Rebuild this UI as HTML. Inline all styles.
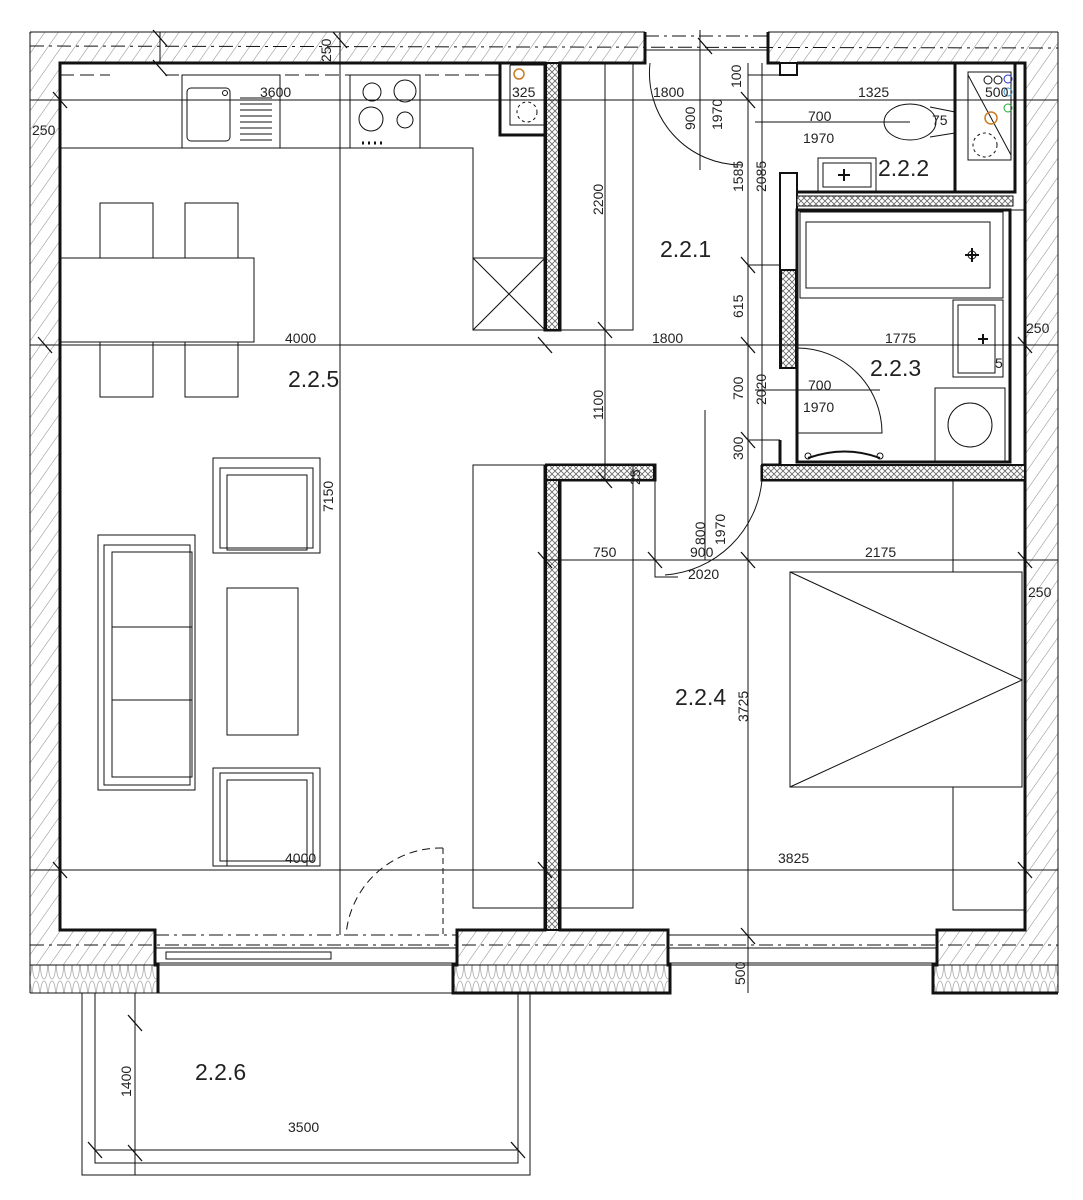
<!DOCTYPE html>
<html><head><meta charset="utf-8"><style>
html,body{margin:0;padding:0;background:#fff;}
svg{display:block;}
text{font-family:"Liberation Sans",sans-serif;fill:#222;}
.d{font-size:14px;}
.r{font-size:23px;fill:#111;}
</style></head><body>
<svg width="1083" height="1200" viewBox="0 0 1083 1200" xmlns="http://www.w3.org/2000/svg">
<defs>
<pattern id="h" width="11" height="11" patternUnits="userSpaceOnUse" patternTransform="rotate(35)">
<rect width="11" height="11" fill="#fff"/><line x1="0" y1="0" x2="0" y2="11" stroke="#888" stroke-width="1"/>
</pattern>
<pattern id="x" width="6" height="6" patternUnits="userSpaceOnUse">
<rect width="6" height="6" fill="#fff"/><path d="M0 0L6 6M6 0L0 6" stroke="#666" stroke-width="0.8"/>
</pattern>
<pattern id="ins" width="8" height="28" patternUnits="userSpaceOnUse">
<rect width="8" height="28" fill="#fff"/><ellipse cx="4" cy="14" rx="3.5" ry="13" fill="none" stroke="#aaa" stroke-width="0.8"/>
</pattern>
</defs>
<g fill="none" stroke="#111">
<rect x="30" y="32" width="615" height="31" fill="url(#h)" stroke="none"/>
<rect x="768" y="32" width="290" height="31" fill="url(#h)" stroke="none"/>
<rect x="30" y="32" width="30" height="900" fill="url(#h)" stroke="none"/>
<rect x="1025" y="32" width="33" height="900" fill="url(#h)" stroke="none"/>
<rect x="30" y="930" width="125" height="35" fill="url(#h)" stroke="none"/>
<rect x="457" y="930" width="211" height="35" fill="url(#h)" stroke="none"/>
<rect x="937" y="930" width="121" height="35" fill="url(#h)" stroke="none"/>
<rect x="30" y="965" width="128" height="28" fill="url(#ins)" stroke="none"/>
<rect x="453" y="965" width="217" height="28" fill="url(#ins)" stroke="none"/>
<rect x="933" y="965" width="125" height="28" fill="url(#ins)" stroke="none"/>
<line x1="30" y1="32" x2="645" y2="32" stroke-width="1"/>
<line x1="768" y1="32" x2="1058" y2="32" stroke-width="1"/>
<line x1="30" y1="46" x2="1058" y2="48" stroke-width="1" stroke-dasharray="14 5 3 5"/>
<line x1="1058" y1="32" x2="1058" y2="993" stroke-width="1"/>
<line x1="30" y1="32" x2="30" y2="993" stroke-width="1"/>
<line x1="30" y1="993" x2="158" y2="993"/>
<line x1="30" y1="965" x2="1058" y2="965" stroke-width="1"/>
<line x1="30" y1="945" x2="1058" y2="945" stroke-width="1" stroke-dasharray="14 5 3 5"/>
<g stroke-width="3">
<path d="M645 32V63H560V330H545V63H60V930H155V965H158V993"/>
<path d="M768 32V63H780"/>
<path d="M797 63H1025V930H937V965H933V993H1058"/>
<path d="M545 465V930H457V965H453V993H670V965H668V930H560V480H655V465H545"/>
<path d="M762 465V480H1025"/>
<path d="M500 63V135H545"/>
<rect x="780" y="63" width="17" height="12" stroke-width="2"/>
<rect x="780" y="173" width="17" height="195" stroke-width="2"/>
<path d="M780 440V465H762M797 440V462H1010V210H797V440"/>
<path d="M797 192H955V63M955 192H1015V63"/>
</g>
<rect x="546" y="63" width="13" height="267" fill="url(#x)" stroke="#111" stroke-width="2"/>
<rect x="546" y="465" width="13" height="465" fill="url(#x)" stroke="#111" stroke-width="2"/>
<rect x="546" y="465" width="108" height="15" fill="url(#x)" stroke="#111" stroke-width="2"/>
<rect x="762" y="465" width="263" height="15" fill="url(#x)" stroke="#111" stroke-width="2"/>
<rect x="781" y="270" width="15" height="98" fill="url(#x)" stroke="#111" stroke-width="2"/>
<rect x="797" y="196" width="216" height="10" fill="url(#x)" stroke="#111" stroke-width="1"/>
<line x1="1010" y1="210" x2="1010" y2="462" stroke-width="3"/>
<line x1="1025" y1="210" x2="1010" y2="210" stroke-width="1"/>
<g stroke-width="1">
<rect x="155" y="948" width="302" height="15"/>
<rect x="166" y="952" width="165" height="7"/>
<rect x="668" y="948" width="269" height="15"/>
<line x1="158" y1="993" x2="453" y2="993" stroke-dasharray="14 5 3 5"/>
<line x1="155" y1="935" x2="457" y2="935" stroke-dasharray="14 5 3 5"/>
<line x1="668" y1="935" x2="937" y2="935"/>
<line x1="645" y1="36" x2="768" y2="36" stroke-dasharray="14 5 3 5"/>
<line x1="645" y1="50" x2="768" y2="50"/>
</g>
<rect x="82" y="993" width="448" height="182" stroke-width="1"/>
<path d="M95 993V1163H518V993" stroke-width="1"/>
<g stroke-width="1">
<line x1="30" y1="100" x2="1058" y2="100"/>
<line x1="30" y1="345" x2="1058" y2="345"/>
<line x1="545" y1="560" x2="1058" y2="560"/>
<line x1="30" y1="870" x2="1058" y2="870"/>
<line x1="340" y1="32" x2="340" y2="935"/>
<line x1="605" y1="63" x2="605" y2="480"/>
<line x1="748" y1="63" x2="748" y2="993"/>
<line x1="762" y1="63" x2="762" y2="465"/>
<line x1="160" y1="32" x2="160" y2="63"/>
<line x1="135" y1="993" x2="135" y2="1175"/>
<line x1="95" y1="1150" x2="518" y2="1150"/>
<line x1="748" y1="75" x2="780" y2="75"/><line x1="748" y1="265" x2="780" y2="265"/>
<line x1="748" y1="345" x2="780" y2="345"/><line x1="748" y1="440" x2="780" y2="440"/>
<line x1="755" y1="122" x2="910" y2="122"/>
<line x1="755" y1="390" x2="880" y2="390"/>
<line x1="700" y1="30" x2="700" y2="170"/>
<line x1="705" y1="410" x2="705" y2="560"/>
</g>
<g stroke-width="1.3">
<path d="M153 30l14 16M333 32l14 16M153 60l14 16M53 92l14 16M38 337l14 16M538 337l14 16M598 322l14 16M741 92l14 16M741 257l14 16M741 337l14 16M741 432l14 16M741 552l14 16M598 472l14 16M1018 552l14 16M1018 337l14 16M53 862l14 16M538 862l14 16M1018 862l14 16M741 928l14 16M128 1015l14 16M128 1145l14 16M88 1142l14 16M511 1142l14 16M648 552l14 16M538 552l14 16M698 38l14 16"/>
</g>
<g stroke-width="1">
<path d="M60 75H110M165 75H500" stroke-dasharray="14 6"/>
<path d="M60 148H473V330H545"/>
<rect x="182" y="75" width="98" height="73"/>
<rect x="187" y="88" width="43" height="53" rx="4"/>
<circle cx="225" cy="93" r="2.5"/>
<path d="M240 98h32M240 104h32M240 110h32M240 116h32M240 122h32M240 128h32M240 134h32M240 140h32"/>
<rect x="350" y="75" width="70" height="73"/>
<circle cx="372" cy="92" r="9"/><circle cx="405" cy="91" r="11"/><circle cx="371" cy="119" r="12"/><circle cx="405" cy="120" r="8"/>
<path d="M362 143h2M368 143h2M374 143h2M380 143h2" stroke-width="3"/>
<path d="M473 258H545M473 258L545 330M545 258L473 330"/>
<path d="M510 65H545M510 65V125H545" stroke-width="1"/>
<circle cx="519" cy="74" r="5" stroke="#d07a20" stroke-width="1.5"/>
<circle cx="527" cy="112" r="10" stroke-dasharray="3 3"/>
<rect x="100" y="203" width="53" height="55"/><rect x="185" y="203" width="53" height="55"/>
<rect x="60" y="258" width="194" height="84"/>
<rect x="100" y="342" width="53" height="55"/><rect x="185" y="342" width="53" height="55"/>
<rect x="213" y="458" width="107" height="95"/><rect x="220" y="468" width="93" height="80"/><rect x="227" y="475" width="80" height="75"/>
<rect x="213" y="768" width="107" height="98"/><rect x="220" y="773" width="93" height="88"/><rect x="227" y="780" width="80" height="86"/>
<rect x="98" y="535" width="97" height="255"/><rect x="104" y="545" width="86" height="240"/><rect x="112" y="552" width="80" height="225"/>
<path d="M112 627H192M112 700H192"/>
<rect x="227" y="588" width="71" height="147"/>
<path d="M443 848V935" stroke-dasharray="6 4"/>
<path d="M443 848A95 95 0 0 0 346 935" stroke-dasharray="8 5"/>
<path d="M560 330H633V63"/>
<rect x="473" y="465" width="160" height="443"/>
<path d="M650 63A92 92 0 0 0 742 165"/>
<ellipse cx="910" cy="122" rx="26" ry="18"/>
<path d="M930 107L955 112M930 137L955 133"/>
<rect x="818" y="158" width="58" height="34"/><rect x="823" y="163" width="48" height="24"/>
<path d="M838 175h12M844 169v12" stroke-width="2"/>
<rect x="968" y="72" width="43" height="88"/>
<path d="M968 75L1011 155"/>
<circle cx="988" cy="80" r="4"/><circle cx="998" cy="80" r="4"/>
<circle cx="1008" cy="79" r="4" stroke="#2233dd"/><circle cx="1008" cy="92" r="4" stroke="#3399dd"/><circle cx="1008" cy="108" r="4" stroke="#22aa33"/>
<circle cx="991" cy="118" r="6" stroke="#d07a20" stroke-width="1.5"/>
<circle cx="985" cy="145" r="12" stroke-dasharray="3 3"/>
<rect x="800" y="212" width="203" height="86"/><rect x="806" y="222" width="184" height="66"/>
<path d="M965 255h14M972 248v14" stroke-width="2"/><circle cx="972" cy="255" r="4"/>
<rect x="953" y="300" width="50" height="77"/><rect x="958" y="305" width="37" height="68"/>
<path d="M978 339h10M983 334v10" stroke-width="2"/>
<rect x="935" y="388" width="70" height="74"/><circle cx="970" cy="425" r="22"/>
<path d="M797 348A85 85 0 0 1 882 433H797"/>
<path d="M808 458Q845 445 880 458" stroke-width="2"/><circle cx="808" cy="456" r="3"/><circle cx="880" cy="456" r="3"/>
<path d="M655 480V577H678"/>
<path d="M762 480A105 105 0 0 1 665 575"/>
<rect x="790" y="572" width="232" height="215"/>
<path d="M790 572L1022 680L790 787"/>
<path d="M953 480V572M953 787V910H1025"/>
</g>
</g>
<g class="d">
<text x="260" y="97">3600</text>
<text x="512" y="97">325</text>
<text x="32" y="135">250</text>
<text x="285" y="343">4000</text>
<text x="652" y="343">1800</text>
<text x="885" y="343">1775</text>
<text x="1026" y="333">250</text>
<text x="653" y="97">1800</text>
<text x="858" y="97">1325</text>
<text x="985" y="97">500</text>
<text x="932" y="125">75</text>
<text x="808" y="121">700</text>
<text x="803" y="143">1970</text>
<text x="808" y="390">700</text>
<text x="803" y="412">1970</text>
<text x="995" y="368">5</text>
<text x="593" y="557">750</text>
<text x="690" y="557">900</text>
<text x="688" y="579">2020</text>
<text x="865" y="557">2175</text>
<text x="1028" y="597">250</text>
<text x="285" y="863">4000</text>
<text x="778" y="863">3825</text>
<text x="288" y="1132">3500</text>
<g transform="rotate(-90)">
<text x="-62" y="331">250</text>
<text x="-130" y="695">900</text>
<text x="-130" y="722">1970</text>
<text x="-88" y="741">100</text>
<text x="-192" y="743">1585</text>
<text x="-192" y="766">2085</text>
<text x="-215" y="603">2200</text>
<text x="-318" y="743">615</text>
<text x="-420" y="603">1100</text>
<text x="-400" y="743">700</text>
<text x="-405" y="766">2020</text>
<text x="-460" y="743">300</text>
<text x="-512" y="333">7150</text>
<text x="-545" y="705">800</text>
<text x="-545" y="725">1970</text>
<text x="-485" y="640">25</text>
<text x="-722" y="748">3725</text>
<text x="-985" y="745">500</text>
<text x="-1097" y="131">1400</text>
</g>
</g>
<g class="r">
<text x="660" y="257">2.2.1</text>
<text x="878" y="176">2.2.2</text>
<text x="870" y="376">2.2.3</text>
<text x="675" y="705">2.2.4</text>
<text x="288" y="387">2.2.5</text>
<text x="195" y="1080">2.2.6</text>
</g>
</svg>
</body></html>
